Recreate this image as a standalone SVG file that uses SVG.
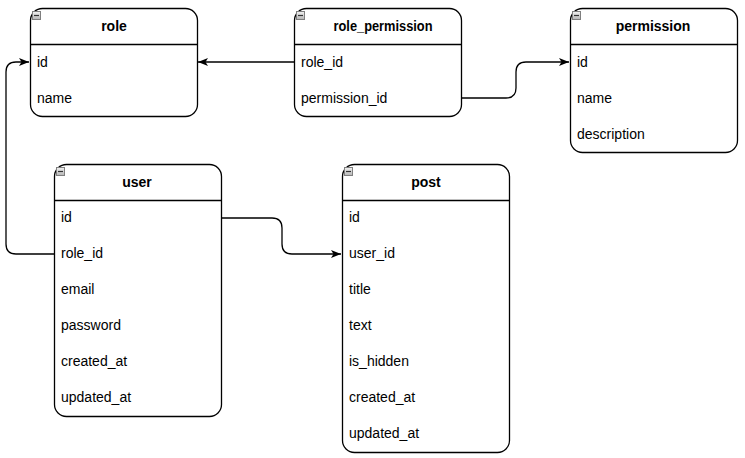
<svg xmlns="http://www.w3.org/2000/svg" width="745" height="458" viewBox="0 0 745 458">
<style>
.box{fill:#fff;stroke:#000;stroke-width:1.3}
.sep{stroke:#000;stroke-width:1.3}
.title{font-family:"Liberation Sans",Arial,sans-serif;font-size:14px;font-weight:bold;fill:#000;text-anchor:middle}
.field{font-family:"Liberation Sans",Arial,sans-serif;font-size:14px;fill:#000}
.edge{fill:none;stroke:#000;stroke-width:1.3}
.icon{fill:url(#ig);stroke:#7f7f7f;stroke-width:1}
.iconl{stroke:#333;stroke-width:1.2}
</style>
<defs>
<linearGradient id="ig" x1="0" y1="0" x2="0" y2="1"><stop offset="0" stop-color="#f2f2f2"/><stop offset="1" stop-color="#b5b5b5"/></linearGradient>
<marker id="arr" markerUnits="userSpaceOnUse" markerWidth="12" markerHeight="10" refX="10" refY="4" orient="auto"><path d="M0,0 L10,4 L0,8 L2.5,4 Z" fill="#000"/></marker>
<g id="collapse"><rect class="icon" x="0.5" y="0.5" width="8" height="8"/><line class="iconl" x1="2" y1="4.5" x2="7" y2="4.5"/></g>
</defs>
<g id="connectors">
<path class="edge" d="M294,62 L198,62" marker-end="url(#arr)"/>
<path class="edge" d="M462,98 L506,98 Q516,98 516,88 L516,72 Q516,62 526,62 L569,62" marker-end="url(#arr)"/>
<path class="edge" d="M54,254 L16,254 Q6,254 6,244 L6,72 Q6,62 16,62 L29,62" marker-end="url(#arr)"/>
<path class="edge" d="M222,218 L272,218 Q282,218 282,228 L282,244 Q282,254 292,254 L341,254" marker-end="url(#arr)"/>
</g>
<g id="role">
<rect class="box" x="30.5" y="8.5" width="167" height="108" rx="12"/>
<line class="sep" x1="30.5" y1="44.5" x2="197.5" y2="44.5"/>
<use href="#collapse" x="32" y="11"/>
<text class="title" x="114" y="31">role</text>
<text class="field" x="37" y="67">id</text>
<text class="field" x="37" y="103">name</text>
</g>
<g id="role_permission">
<rect class="box" x="294.5" y="8.5" width="167" height="108" rx="12"/>
<line class="sep" x1="294.5" y1="44.5" x2="461.5" y2="44.5"/>
<use href="#collapse" x="296" y="11"/>
<text class="title" x="383" y="31" textLength="99" lengthAdjust="spacingAndGlyphs">role_permission</text>
<text class="field" x="301" y="67">role_id</text>
<text class="field" x="301" y="103">permission_id</text>
</g>
<g id="permission">
<rect class="box" x="570.5" y="8.5" width="167" height="144" rx="12"/>
<line class="sep" x1="570.5" y1="44.5" x2="737.5" y2="44.5"/>
<use href="#collapse" x="572" y="11"/>
<text class="title" x="653" y="31">permission</text>
<text class="field" x="577" y="67">id</text>
<text class="field" x="577" y="103">name</text>
<text class="field" x="577" y="139">description</text>
</g>
<g id="user">
<rect class="box" x="54.5" y="164.5" width="167" height="252" rx="12"/>
<line class="sep" x1="54.5" y1="200.5" x2="221.5" y2="200.5"/>
<use href="#collapse" x="56" y="167"/>
<text class="title" x="137" y="187">user</text>
<text class="field" x="61" y="222">id</text>
<text class="field" x="61" y="258">role_id</text>
<text class="field" x="61" y="294">email</text>
<text class="field" x="61" y="330">password</text>
<text class="field" x="61" y="366">created_at</text>
<text class="field" x="61" y="402">updated_at</text>
</g>
<g id="post">
<rect class="box" x="342.5" y="164.5" width="167" height="288" rx="12"/>
<line class="sep" x1="342.5" y1="200.5" x2="509.5" y2="200.5"/>
<use href="#collapse" x="344" y="167"/>
<text class="title" x="426" y="187">post</text>
<text class="field" x="349" y="222">id</text>
<text class="field" x="349" y="258">user_id</text>
<text class="field" x="349" y="294">title</text>
<text class="field" x="349" y="330">text</text>
<text class="field" x="349" y="366">is_hidden</text>
<text class="field" x="349" y="402">created_at</text>
<text class="field" x="349" y="438">updated_at</text>
</g>
</svg>
